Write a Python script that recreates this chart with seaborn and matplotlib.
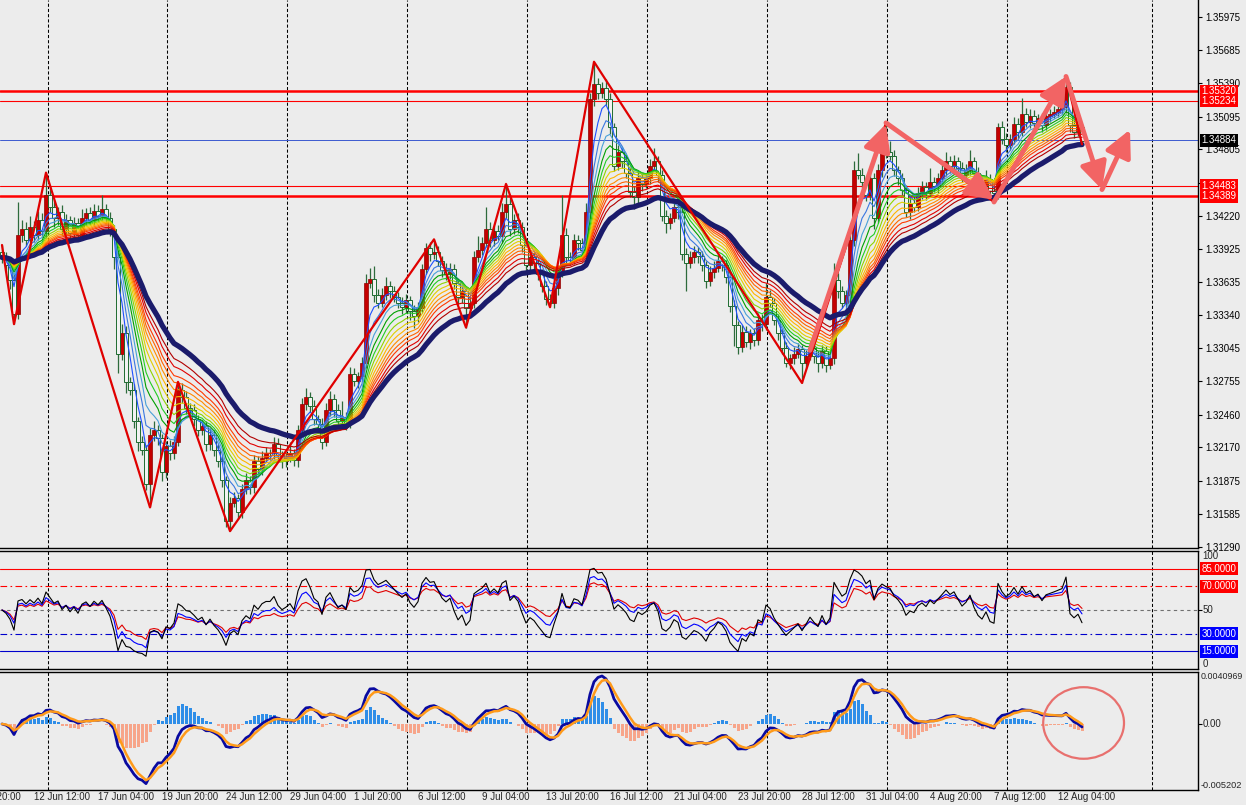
import numpy as np
import pandas as pd
import matplotlib
matplotlib.use('Agg')
import matplotlib.pyplot as plt
import matplotlib.transforms as mtransforms
from matplotlib.patches import Ellipse
import seaborn as sns

# H4 candles, prices in pips above 1.3000
first_open = 390
close_pips = [
    385, 378, 365, 335, 405, 410, 400, 412, 405, 418,
    408, 440, 430, 420, 425, 410, 418, 407, 415, 405,
    420, 424, 418, 426, 422, 428, 420, 410, 385, 300,
    318, 275, 268, 240, 222, 215, 185, 228, 232, 225,
    195, 218, 212, 222, 268, 262, 252, 250, 242, 232,
    236, 220, 228, 215, 205, 188, 152, 168, 172, 160,
    180, 188, 182, 205, 198, 208, 212, 212, 220, 210,
    205, 208, 212, 206, 232, 255, 262, 254, 242, 238,
    222, 250, 260, 250, 240, 244, 238, 282, 276, 280,
    292, 362, 366, 352, 345, 352, 360, 355, 350, 345,
    341, 347, 338, 333, 340, 375, 393, 388, 390, 382,
    374, 370, 375, 362, 350, 355, 340, 345, 385, 392,
    398, 410, 400, 408, 404, 425, 432, 410, 418, 412,
    396, 378, 385, 380, 370, 360, 348, 345, 358, 372,
    405, 385, 383, 400, 398, 392, 425, 525, 538, 530,
    535, 525, 500, 466, 478, 470, 460, 443, 438, 455,
    450, 455, 466, 470, 458, 422, 415, 420, 430, 425,
    388, 380, 385, 390, 386, 378, 364, 372, 376, 382,
    378, 368, 342, 325, 306, 319, 310, 318, 312, 330,
    326, 350, 345, 330, 318, 305, 292, 296, 300, 304,
    292, 298, 305, 298, 292, 302, 290, 296, 365, 355,
    345, 352, 400, 462, 458, 452, 440, 455, 420, 462,
    483, 478, 475, 462, 455, 445, 425, 433, 430, 442,
    447, 442, 452, 448, 455, 462, 470, 466, 470, 464,
    458, 462, 470, 460, 452, 448, 454, 444, 442, 500,
    490, 484, 490, 503, 496, 512, 505, 510, 504, 508,
    502, 510, 512, 514, 516, 518, 536, 502, 496, 500,
    488,
]
upper_wick = [
    6, 5, 4, 5, 29, 8, 6, 10, 5, 8,
    6, 20, 8, 6, 5, 6, 5, 4, 6, 5,
    8, 5, 6, 6, 5, 12, 4, 5, 4, 5,
    8, 6, 4, 5, 4, 5, 4, 6, 8, 5,
    4, 5, 6, 5, 7, 6, 5, 4, 5, 4,
    5, 4, 6, 4, 5, 4, 4, 5, 6, 4,
    5, 6, 4, 5, 4, 6, 5, 4, 6, 5,
    4, 5, 10, 4, 5, 6, 8, 4, 5, 4,
    5, 6, 7, 4, 5, 14, 4, 6, 5, 4,
    5, 8, 10, 11, 5, 6, 8, 4, 5, 4,
    5, 6, 4, 5, 6, 4, 5, 6, 11, 5,
    4, 6, 5, 4, 5, 6, 4, 5, 6, 12,
    5, 20, 6, 5, 6, 8, 18, 6, 5, 6,
    4, 5, 6, 5, 4, 5, 4, 5, 5, 6,
    35, 6, 5, 6, 5, 4, 8, 5, 20, 6,
    5, 8, 5, 4, 6, 5, 5, 4, 5, 6,
    4, 5, 6, 12, 5, 4, 5, 4, 6, 5,
    4, 5, 6, 5, 4, 5, 4, 5, 6, 5,
    4, 5, 4, 5, 4, 6, 5, 4, 5, 6,
    5, 12, 6, 4, 5, 4, 5, 4, 6, 5,
    4, 5, 6, 5, 4, 6, 5, 4, 15, 6,
    5, 4, 6, 8, 15, 6, 5, 7, 5, 6,
    8, 21, 10, 5, 4, 5, 4, 5, 6, 5,
    6, 5, 12, 4, 5, 6, 8, 5, 6, 4,
    5, 6, 10, 4, 5, 4, 8, 5, 4, 4,
    6, 5, 4, 6, 5, 14, 5, 6, 5, 4,
    5, 6, 4, 5, 4, 6, 9, 4, 5, 4,
    3,
]
lower_wick = [
    5, 6, 8, 9, 4, 6, 5, 4, 6, 5,
    5, 6, 5, 8, 6, 5, 4, 6, 5, 4,
    5, 6, 4, 5, 6, 4, 5, 6, 10, 17,
    6, 10, 5, 6, 8, 5, 6, 21, 5, 6,
    8, 5, 6, 5, 4, 6, 5, 4, 6, 5,
    4, 6, 5, 6, 5, 6, 5, 9, 4, 6,
    5, 4, 6, 5, 4, 5, 4, 6, 5, 4,
    6, 5, 4, 5, 6, 4, 5, 6, 5, 8,
    6, 4, 5, 6, 8, 5, 6, 4, 5, 6,
    4, 5, 4, 6, 5, 4, 5, 6, 4, 5,
    6, 5, 8, 10, 5, 4, 5, 6, 4, 5,
    6, 5, 4, 5, 6, 5, 17, 6, 5, 4,
    5, 4, 6, 5, 4, 6, 5, 6, 4, 5,
    6, 5, 8, 6, 5, 6, 5, 4, 5, 6,
    4, 6, 5, 4, 6, 5, 4, 5, 6, 5,
    4, 5, 6, 5, 4, 6, 5, 5, 10, 5,
    6, 4, 5, 4, 6, 5, 8, 5, 4, 6,
    5, 25, 4, 5, 6, 5, 6, 4, 5, 4,
    5, 6, 5, 18, 6, 5, 4, 6, 5, 4,
    6, 5, 4, 5, 6, 5, 4, 6, 5, 4,
    18, 5, 4, 6, 8, 5, 6, 4, 5, 6,
    5, 4, 6, 5, 4, 6, 5, 4, 10, 5,
    6, 5, 4, 5, 6, 5, 4, 6, 5, 4,
    5, 6, 4, 5, 6, 4, 5, 6, 4, 5,
    6, 5, 4, 5, 6, 5, 4, 6, 8, 5,
    5, 6, 4, 5, 6, 4, 5, 6, 4, 5,
    6, 4, 5, 4, 5, 4, 5, 6, 5, 4,
    3,
]
assert len(close_pips) == len(upper_wick) == len(lower_wick)

# zigzag turning points: bar index and which end of the candle
zigzag_bars = [0, 3, 11, 37, 44, 57, 108, 116, 126, 137, 148, 200, 221, 248, 266, 270]
zigzag_side = ['H', 'L', 'H', 'L', 'H', 'L', 'H', 'L', 'H', 'L', 'H', 'L', 'H', 'L', 'H', 'L']

# hand-drawn arrows (bar, pips)
arrow_start_bar = [202, 221, 248, 266, 275]
arrow_start_pips = [303, 504, 434, 545, 445]
arrow_end_bar = [221, 248, 266, 275, 282]
arrow_end_pips = [503, 436, 545, 445, 498]

levels_thick = [1.35320, 1.34389]
levels_thin = [1.35234, 1.34483]
last_price = 1.34884

price_ticks = [1.35975, 1.35685, 1.35390, 1.35095, 1.34805, 1.34510, 1.34220,
               1.33925, 1.33635, 1.33340, 1.33045, 1.32755, 1.32460, 1.32170,
               1.31875, 1.31585, 1.31290]

time_labels = ['9 Jun 20:00', '12 Jun 12:00', '17 Jun 04:00', '19 Jun 20:00',
               '24 Jun 12:00', '29 Jun 04:00', '1 Jul 20:00', '6 Jul 12:00',
               '9 Jul 04:00', '13 Jul 20:00', '16 Jul 12:00', '21 Jul 04:00',
               '23 Jul 20:00', '28 Jul 12:00', '31 Jul 04:00', '4 Aug 20:00',
               '7 Aug 12:00', '12 Aug 04:00']
first_label_bar = -8
label_step = 16
separator_bars = [11.5, 41.25, 71.25, 101.25, 131.25, 161.25, 191.25, 221.25, 251.25, 287.5]

ribbon_periods = [4, 6, 8, 10, 12, 14, 16, 18, 20, 22, 24, 27, 30]
ribbon_colors = ['#1e50ff', '#3a78e0', '#48a0d8', '#00a000', '#22cc22', '#8fd400',
                 '#e0d000', '#ffb400', '#ff8c00', '#ff6400', '#ff3a00', '#e00000', '#b00000']
slow_period = 37

rsi_periods = [8, 13, 20]
rsi_colors = ['black', '#0000ff', '#e00000']

macd_fast, macd_slow, macd_smooth, osma_period = 6, 12, 3, 9
macd_top = 0.0040969
macd_bottom = -0.005202

bg = '#ececec'
sns.set_style('white', {'axes.facecolor': bg, 'figure.facecolor': bg})
plt.rcParams['font.family'] = ['Liberation Sans', 'DejaVu Sans']

idx = np.arange(len(close_pips))
close = 1.3 + np.array(close_pips) / 1e4
open_ = np.r_[1.3 + first_open / 1e4, close[:-1]]
top = np.maximum(open_, close)
bot = np.minimum(open_, close)
high = top + np.array(upper_wick) / 1e4
low = bot - np.array(lower_wick) / 1e4
up = close >= open_
s = pd.Series(close)

W, H = 1246, 805
fig = plt.figure(figsize=(W / 100, H / 100), dpi=100, facecolor=bg)


def add_panel(y_top, y_bottom):
    ax = fig.add_axes([0, 1 - y_bottom / H, 1198 / W, (y_bottom - y_top) / H])
    ax.set_facecolor(bg)
    ax.set_xlim(-0.5, 299)
    for side in ['left', 'top', 'bottom', 'right']:
        ax.spines[side].set_color('black')
        ax.spines[side].set_linewidth(1.0)
    ax.spines['left'].set_visible(False)
    ax.tick_params(axis='x', bottom=False, labelbottom=False)
    ax.yaxis.tick_right()
    ax.tick_params(axis='y', length=3, width=0.8, pad=2, labelsize=7, colors='black')
    for g in separator_bars:
        ax.axvline(g, color='black', lw=0.75, ls=(0, (3, 2)), zorder=0.5)
    return ax


def tag(ax, y, text, color):
    tr = mtransforms.blended_transform_factory(ax.transAxes, ax.transData)
    ax.text(1.003, y, text, transform=tr, ha='left', va='center', color='white',
            fontsize=7, clip_on=False, zorder=10,
            bbox=dict(boxstyle='square,pad=0.15', fc=color, ec='none'))


# ---- price panel
ax = add_panel(0, 548)
ax.spines['top'].set_visible(False)
ax.set_ylim(1.31281, 1.36126)
tagged = levels_thick + levels_thin + [last_price]
tick_text = ['' if min(abs(t - v) for v in tagged) < 0.0004 else f'{t:.5f}' for t in price_ticks]
ax.set_yticks(price_ticks, tick_text)

for lv in levels_thick:
    ax.axhline(lv, color='#ff0000', lw=1.8, zorder=1)
for lv in levels_thin:
    ax.axhline(lv, color='#ff0000', lw=0.8, zorder=1)
ax.axhline(last_price, color='#3c5ad0', lw=0.7, zorder=1)

ax.vlines(idx, low, high, color='#2d6b3c', lw=0.9, zorder=2)
ax.bar(idx[up], (top - bot)[up], bottom=bot[up], width=0.78, color='#c40000',
       edgecolor='#900000', lw=0.5, zorder=2.1)
ax.bar(idx[~up], (top - bot)[~up], bottom=bot[~up], width=0.78, color='#f2f2f2',
       edgecolor='#1e6b30', lw=0.7, zorder=2.1)

for p, c in zip(ribbon_periods, ribbon_colors):
    sns.lineplot(x=idx, y=s.ewm(span=p, adjust=False).mean().values, ax=ax,
                 color=c, lw=0.8, zorder=3, legend=False)
sns.lineplot(x=idx, y=s.ewm(span=slow_period, adjust=False).mean().values, ax=ax,
             color='#1b1b6b', lw=3.8, zorder=4, legend=False)

zz_y = [high[b] if side == 'H' else low[b] for b, side in zip(zigzag_bars, zigzag_side)]
ax.plot(zigzag_bars, zz_y, color='#e00000', lw=1.6, zorder=5)

for xs, ys, xe, ye in zip(arrow_start_bar, arrow_start_pips, arrow_end_bar, arrow_end_pips):
    ax.annotate('', xy=(xe, 1.3 + ye / 1e4), xytext=(xs, 1.3 + ys / 1e4), zorder=6,
                arrowprops=dict(arrowstyle='-|>,head_length=0.9,head_width=0.45',
                                color='#f26464', lw=3.5, mutation_scale=18,
                                shrinkA=0, shrinkB=0))

tag(ax, levels_thick[0], f'{levels_thick[0]:.5f}', '#ff0000')
tag(ax, levels_thin[0], f'{levels_thin[0]:.5f}', '#ff0000')
tag(ax, last_price, f'{last_price:.5f}', 'black')
tag(ax, levels_thin[1], f'{levels_thin[1]:.5f}', '#ff0000')
tag(ax, levels_thick[1], f'{levels_thick[1]:.5f}', '#ff0000')

# ---- RSI panel
ax_r = add_panel(551, 669)
ax_r.set_ylim(0, 100)
ax_r.set_yticks([50], [''])
ax_r.axhline(85, color='#ff0000', lw=0.8, zorder=1)
ax_r.axhline(70, color='#ff0000', lw=0.8, ls=(0, (6, 3, 1.5, 3)), zorder=1)
ax_r.axhline(50, color='#707070', lw=0.8, ls=(0, (3, 3)), zorder=1)
ax_r.axhline(30, color='#0000cc', lw=0.8, ls=(0, (6, 3, 1.5, 3)), zorder=1)
ax_r.axhline(15, color='#0000cc', lw=0.8, zorder=1)


def rsi(series, n):
    # Wilder smoothing, seeded with the mean move of the first n bars
    d = series.diff().fillna(0).values
    seed = np.abs(d[1:n + 1]).mean() / 2
    ag = al = seed
    out = []
    for v in d:
        ag += (max(v, 0) - ag) / n
        al += (max(-v, 0) - al) / n
        out.append(100 * ag / (ag + al))
    return np.array(out)


for n, c in zip(rsi_periods[::-1], rsi_colors[::-1]):
    sns.lineplot(x=idx, y=rsi(s, n), ax=ax_r, color=c, lw=0.8, zorder=3, legend=False)

tr_r = mtransforms.blended_transform_factory(ax_r.transAxes, ax_r.transData)
ax_r.text(1.004, 100, '100', transform=tr_r, ha='left', va='top', fontsize=7, clip_on=False)
ax_r.text(1.004, 50, '50', transform=tr_r, ha='left', va='center', fontsize=7, clip_on=False)
ax_r.text(1.004, 0, '0', transform=tr_r, ha='left', va='bottom', fontsize=7, clip_on=False)
tag(ax_r, 85, '85.0000', '#ff0000')
tag(ax_r, 70, '70.0000', '#ff0000')
tag(ax_r, 30, '30.0000', '#0000ff')
tag(ax_r, 15, '15.0000', '#0000ff')

# ---- MACD panel
ax_m = add_panel(672, 790)
ax_m.set_ylim(macd_bottom, macd_top)
ax_m.set_yticks([0], [''])
macd = s.ewm(span=macd_fast, adjust=False).mean() - s.ewm(span=macd_slow, adjust=False).mean()
signal = macd.ewm(span=macd_smooth, adjust=False).mean()
osma = (macd - macd.ewm(span=osma_period, adjust=False).mean()).values
pos = osma >= 0
ax_m.bar(idx[pos], osma[pos], width=0.75, color='#2f8ee8', edgecolor='none', lw=0, zorder=2)
ax_m.bar(idx[~pos], osma[~pos], width=0.75, color='#f7a58a', edgecolor='none', lw=0, zorder=2)
sns.lineplot(x=idx, y=macd.values, ax=ax_m, color='#0a0aa0', lw=2.0, zorder=3, legend=False)
sns.lineplot(x=idx, y=signal.values, ax=ax_m, color='#ff9a1a', lw=1.8, zorder=4, legend=False)
ax_m.add_patch(Ellipse((270.4, 0.00008), 20.2, 0.00564, fill=False,
                       edgecolor='#e8706e', lw=1.6, zorder=6))

tr_m = mtransforms.blended_transform_factory(ax_m.transAxes, ax_m.transData)
ax_m.text(1.002, macd_top, f'{macd_top:.7f}', transform=tr_m, ha='left', va='top',
          fontsize=6.4, clip_on=False)
ax_m.text(1.004, 0, '0.00', transform=tr_m, ha='left', va='center', fontsize=7, clip_on=False)
ax_m.text(1.002, macd_bottom, f'{macd_bottom:.6f}', transform=tr_m, ha='left',
          va='bottom', fontsize=6.6, clip_on=False)

tr_x = mtransforms.blended_transform_factory(ax_m.transData, ax_m.transAxes)
for k, lab in enumerate(time_labels):
    ax_m.text(first_label_bar + label_step * k, -0.015, lab, transform=tr_x,
              ha='left', va='top', fontsize=7, clip_on=False)

fig.savefig('out.png', dpi=100, facecolor=bg)
